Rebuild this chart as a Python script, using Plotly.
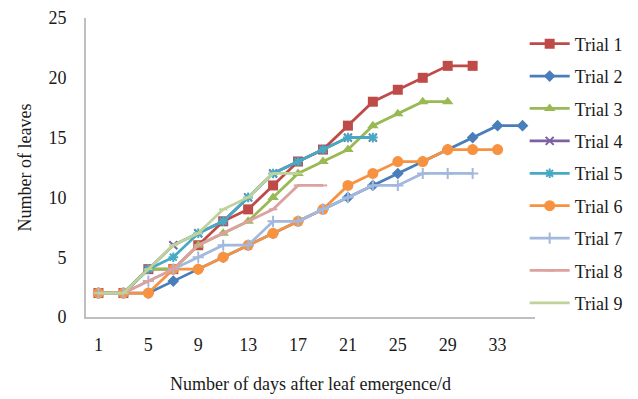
import plotly.graph_objects as go

days = [1, 3, 5, 7, 9, 11, 13, 15, 17, 19, 21, 23, 25, 27, 29, 31, 33, 35]
names = ["Trial 1", "Trial 2", "Trial 3", "Trial 4", "Trial 5", "Trial 6", "Trial 7", "Trial 8", "Trial 9"]

trial1 = [2, 2, 4, 4, 6, 8, 9, 11, 13, 14, 16, 18, 19, 20, 21, 21]
trial2 = [2, 2, 2, 3, 4, 5, 6, 7, 8, 9, 10, 11, 12, 13, 14, 15, 16, 16]
trial3 = [2, 2, 4, 4, 6, 7, 8, 10, 12, 13, 14, 16, 17, 18, 18]
trial4 = [2, 2, 4, 6, 7, 8, 10, 12, 13, 14, 15, 15]
trial5 = [2, 2, 4, 5, 7, 8, 10, 12, 13, 14, 15, 15]
trial6 = [2, 2, 2, 4, 4, 5, 6, 7, 8, 9, 11, 12, 13, 13, 14, 14, 14]
trial7 = [2, 2, 3, 4, 5, 6, 6, 8, 8, 9, 10, 11, 11, 12, 12, 12]
trial8 = [2, 2, 3, 4, 6, 7, 8, 9, 11, 11]
trial9 = [2, 2, 4, 6, 7, 9, 10, 12, 12]

series = [trial1, trial2, trial3, trial4, trial5, trial6, trial7, trial8, trial9]
colors = ["#BE4B48", "#4A7EBB", "#98B954", "#7D60A0", "#46AAC5", "#F69240", "#A2B8DC", "#DDA1A0", "#BDD39A"]
symbols = ["square", "diamond", "triangle-up", "x-thin-open", "asterisk-open", "circle",
           "cross-thin-open", "line-ew-open", "line-ew-open"]
sizes = [10, 9, 10, 8, 8, 11, 8, 6, 6]

x_ticks = [1, 5, 9, 13, 17, 21, 25, 29, 33]
y_ticks = [0, 5, 10, 15, 20, 25]

FONT = "Liberation Serif, Times New Roman, serif"
TXT = "#1a1a1a"

fig = go.Figure()
for i, (nm, vals) in enumerate(zip(names, series)):
    fig.add_trace(go.Scatter(
        x=days[:len(vals)], y=vals, name=nm, mode="lines+markers",
        line=dict(color=colors[i], width=2.75),
        marker=dict(symbol=symbols[i], size=sizes[i], color=colors[i],
                    line=dict(color=colors[i], width=2 if "open" in symbols[i] else 0)),
        legendgroup=nm,
    ))

fig.update_layout(
    width=638, height=399,
    margin=dict(l=86, r=103, t=18, b=82, autoexpand=False),
    paper_bgcolor="white", plot_bgcolor="white",
    font=dict(family=FONT, size=18, color=TXT),
    showlegend=True,
    legend=dict(x=0.977, y=0.975, xanchor="left", yanchor="top",
                font=dict(family=FONT, size=18, color=TXT), itemwidth=40,
                tracegroupgap=6, maxheight=390, bgcolor="rgba(0,0,0,0)"),
    xaxis=dict(range=[0, 36], tickvals=x_ticks, ticktext=[str(v) for v in x_ticks],
               showgrid=False, zeroline=False, showline=True, linecolor="#BFBFBF", linewidth=2,
               ticks="", ticklabelstandoff=10, automargin=False,
               title=dict(text="Number of days after leaf emergence/d", standoff=24,
                          font=dict(family=FONT, size=18, color=TXT))),
    yaxis=dict(range=[0, 25], tickvals=y_ticks, showgrid=False, zeroline=False,
               showline=True, linecolor="#BFBFBF", linewidth=2, ticks="", ticklabelstandoff=14,
               automargin=False,
               title=dict(text="Number of leaves", standoff=12,
                          font=dict(family=FONT, size=18, color=TXT))),
)

fig.write_html("out.html", config={"displayModeBar": False},
               post_script="document.body.style.margin='0';document.body.style.overflow='hidden';")
